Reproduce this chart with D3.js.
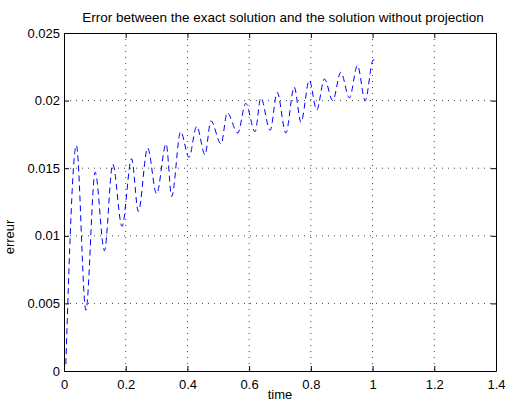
<!DOCTYPE html>
<html lang="en">
<head>
<meta charset="UTF-8">
<title>Error chart</title>
<style>
  body { margin: 0; background: #fff; }
  text { font-family: "Liberation Sans", Arial, sans-serif; }
</style>
</head>
<body>
<svg id="svg" width="505" height="403"></svg>
<script src="https://d3js.org/d3.v7.min.js"></script>
<script>
// data (peaks and troughs of the error curve)
const time = [0.006, 0.040, 0.071, 0.101, 0.131, 0.158, 0.188, 0.219, 0.241, 0.271,
  0.300, 0.331, 0.349, 0.378, 0.405, 0.430, 0.457, 0.476, 0.509, 0.529,
  0.563, 0.589, 0.619, 0.638, 0.668, 0.691, 0.719, 0.746, 0.768, 0.795,
  0.819, 0.844, 0.871, 0.897, 0.925, 0.951, 0.976, 1.002, 1.008]
const erreur = [0.0005, 0.0167, 0.0045, 0.0147, 0.0089, 0.0153, 0.0107, 0.0157, 0.0118, 0.0165,
  0.0131, 0.0168, 0.0129, 0.0177, 0.0158, 0.0181, 0.0160, 0.0185, 0.0168, 0.0191,
  0.0176, 0.0198, 0.0177, 0.0202, 0.0178, 0.0206, 0.0176, 0.0210, 0.0184, 0.0215,
  0.0193, 0.0216, 0.0200, 0.0221, 0.0202, 0.0226, 0.0200, 0.0230, 0.0230]
const xTicks = [0, 0.2, 0.4, 0.6, 0.8, 1, 1.2, 1.4]
const yTicks = [0, 0.005, 0.01, 0.015, 0.02, 0.025]

const svg = d3.select('#svg')
const mLeft = 64, mRight = 496, mTop = 33, mBottom = 371

const xScale = d3.scaleLinear().domain([0, 1.4]).range([mLeft, mRight])
const yScale = d3.scaleLinear().domain([0, 0.025]).range([mBottom, mTop])

// grid lines (dotted)
svg.append('g').selectAll('line')
  .data(xTicks.slice(1, -1))
  .enter().append('line')
  .attr('x1', d => xScale(d)).attr('x2', d => xScale(d))
  .attr('y1', mTop).attr('y2', mBottom)
  .attr('stroke', '#444').attr('stroke-width', 1)
  .attr('stroke-dasharray', '1,5')
svg.append('g').selectAll('line')
  .data(yTicks.slice(1, -1))
  .enter().append('line')
  .attr('x1', mLeft).attr('x2', mRight)
  .attr('y1', d => yScale(d)).attr('y2', d => yScale(d))
  .attr('stroke', '#444').attr('stroke-width', 1)
  .attr('stroke-dasharray', '1,5')

// curve
const line = d3.line()
  .x((d, i) => xScale(time[i]))
  .y(d => yScale(d))
  .curve(d3.curveMonotoneX)
svg.append('path')
  .datum(erreur)
  .attr('d', line)
  .attr('fill', 'none')
  .attr('stroke', '#0000ff')
  .attr('stroke-width', 1)
  .attr('stroke-dasharray', '6,4')

// axes, matlab style: ticks inward on all four sides
const fmt = d => d === 0 ? '0' : String(d)
svg.append('g')
  .attr('transform', `translate(0,${mBottom})`)
  .call(d3.axisBottom(xScale).tickValues(xTicks).tickFormat(fmt).tickSizeInner(-5).tickSizeOuter(0).tickPadding(9))
svg.append('g')
  .attr('transform', `translate(0,${mTop})`)
  .call(d3.axisTop(xScale).tickValues(xTicks).tickFormat('').tickSizeInner(-5).tickSizeOuter(0))
svg.append('g')
  .attr('transform', `translate(${mLeft},0)`)
  .call(d3.axisLeft(yScale).tickValues(yTicks).tickFormat(fmt).tickSizeInner(-5).tickSizeOuter(0).tickPadding(4))
svg.append('g')
  .attr('transform', `translate(${mRight},0)`)
  .call(d3.axisRight(yScale).tickValues(yTicks).tickFormat('').tickSizeInner(-5).tickSizeOuter(0))

svg.selectAll('.domain').attr('stroke', '#000').attr('stroke-width', 1)
svg.selectAll('.tick text').attr('font-size', 13).attr('fill', '#000')
  .style('font-family', '"Liberation Sans", Arial, sans-serif')

// title and labels
svg.append('text')
  .attr('x', 283).attr('y', 22)
  .attr('text-anchor', 'middle').attr('font-size', 13.5)
  .text('Error between the exact solution and the solution without projection')
svg.append('text')
  .attr('x', 280).attr('y', 399)
  .attr('text-anchor', 'middle').attr('font-size', 13)
  .text('time')
svg.append('text')
  .attr('transform', `translate(14,237) rotate(-90)`)
  .attr('text-anchor', 'middle').attr('font-size', 13)
  .text('erreur')
</script>
</body>
</html>
